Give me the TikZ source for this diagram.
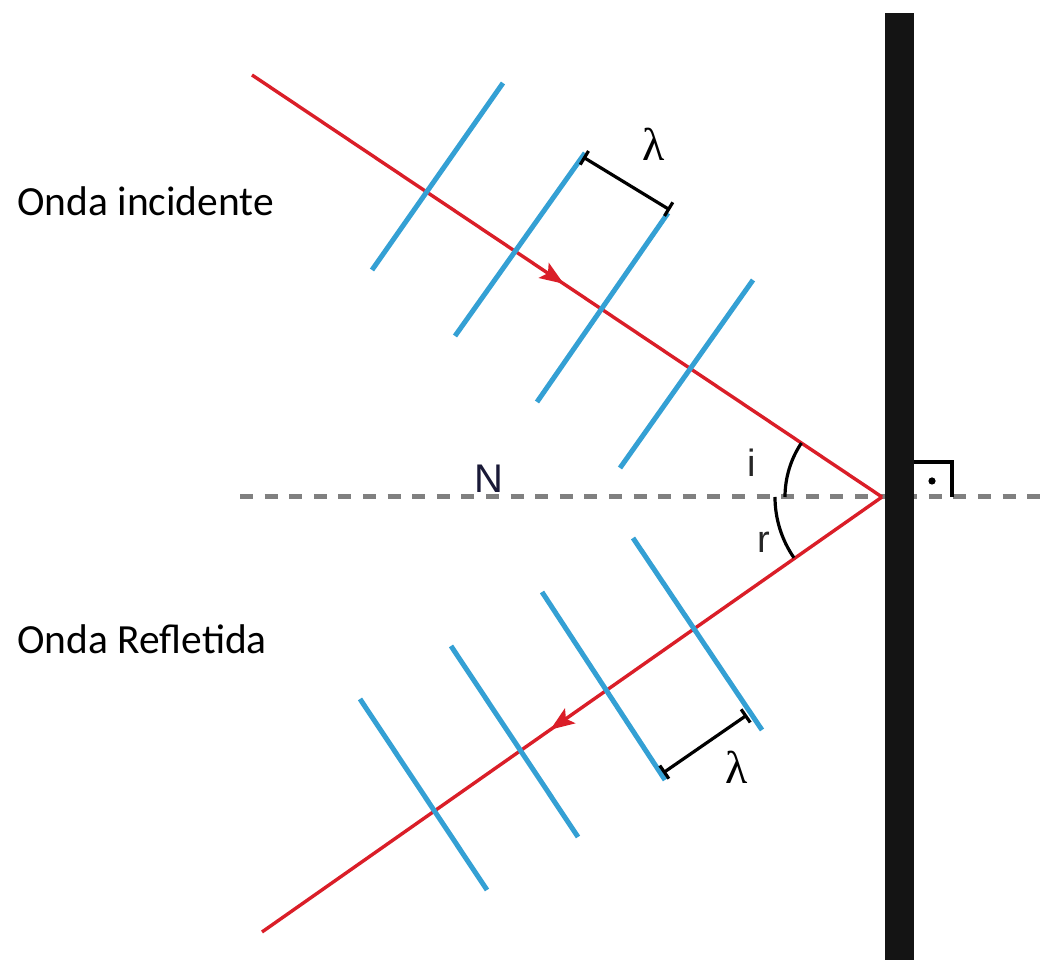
\documentclass[tikz,border=0pt]{standalone}
\usepackage{fontspec}
\setmainfont{Carlito}
\newfontfamily\sanslabel{Liberation Sans}
\newfontfamily\lambdafont{Liberation Serif}
\usetikzlibrary{arrows.meta,decorations.markings}
\definecolor{rayred}{RGB}{218,30,40}
\definecolor{waveblue}{RGB}{52,160,212}
\definecolor{normalgray}{RGB}{128,128,128}
\definecolor{navyN}{RGB}{25,25,55}
\begin{document}
\begin{tikzpicture}[x=1pt,y=1pt,
  ray/.style={rayred, line width=3.4pt},
  wave/.style={waveblue, line width=5pt},
  lambdabar/.style={black, line width=3.2pt, {Bar[width=16pt]}-{Bar[width=16pt]}},
  anglearc/.style={black, line width=3.2pt},
  normalline/.style={normalgray, line width=5pt, dash pattern=on 13pt off 11.6pt},
  sidelabel/.style={font=\fontsize{41.5}{44}\selectfont, anchor=base west, inner sep=0pt},
  anglelabel/.style={font=\sanslabel\fontsize{38}{40}\selectfont, anchor=base, inner sep=0pt, text=black!85},
  lambdalabel/.style={font=\lambdafont\fontsize{46}{48}\selectfont, inner sep=0pt},
  arrowmark/.style={postaction={decorate}, decoration={markings, mark=at position #1 with {\arrow{Stealth[length=24pt,width=18pt,inset=5pt]}}}}
]
\useasboundingbox (0,0) rectangle (1044,960);

% key points
\coordinate (A) at (252,885);
\coordinate (O) at (882,463);
\coordinate (B) at (262,28);

% normal (dashed)
\coordinate (Nl) at (240,463);
\coordinate (Nr) at (1044,463);
\draw[normalline] (Nl) -- (Nr);

% rays
\draw[ray, arrowmark=0.495] (A) -- (O);
\draw[ray, arrowmark=0.535] (O) -- (B);

% incident wavefronts
\coordinate (w1a) at (503,877); \coordinate (w1b) at (372,690);
\coordinate (w2a) at (585,807); \coordinate (w2b) at (455,624);
\coordinate (w3a) at (668,747); \coordinate (w3b) at (537,558);
\coordinate (w4a) at (753,680); \coordinate (w4b) at (620,492);
\draw[wave] (w1a) -- (w1b);
\draw[wave] (w2a) -- (w2b);
\draw[wave] (w3a) -- (w3b);
\draw[wave] (w4a) -- (w4b);

% reflected wavefronts
\coordinate (r1a) at (360,261); \coordinate (r1b) at (487,70);
\coordinate (r2a) at (451,314); \coordinate (r2b) at (578,123);
\coordinate (r3a) at (542,368); \coordinate (r3b) at (665,180);
\coordinate (r4a) at (633,422); \coordinate (r4b) at (762,230);
\draw[wave] (r1a) -- (r1b);
\draw[wave] (r2a) -- (r2b);
\draw[wave] (r3a) -- (r3b);
\draw[wave] (r4a) -- (r4b);

% wavelength markers
\coordinate (la1) at (583,803); \coordinate (la2) at (670,750);
\draw[lambdabar] (la1) -- (la2);
\node[lambdalabel] (lamtop) at (654,816) {λ};
\coordinate (lb1) at (663,187); \coordinate (lb2) at (747,245);
\draw[lambdabar] (lb1) -- (lb2);
\node[lambdalabel] (lambot) at (737,193) {λ};

% angle arcs
\draw[anglearc] ([shift={(146.19:97)}]O) arc[start angle=146.19, end angle=180, radius=97];
\draw[anglearc] ([shift={(180:107)}]O) arc[start angle=180, end angle=214.6, radius=107];
\node[anglelabel] (ilab) at (752,483) {i};
\node[anglelabel] (rlab) at (764,407) {r};
\node[anglelabel, text=navyN, font=\sanslabel\fontsize{40}{42}\selectfont] (Nlab) at (489,467) {N};

% wall
\fill[black!92] (885,0) rectangle (914,947);

% right-angle mark
\coordinate (q1) at (914,498); \coordinate (q2) at (952,498); \coordinate (q3) at (952,463);
\draw[black, line width=3.5pt, line join=miter] (q1) -- (q2) -- (q3);
\fill[black] (932,479) circle (3.6pt);

% side labels
\node[sidelabel] (inc) at (17,744) {Onda incidente};
\node[sidelabel] (ref) at (17,306) {Onda Refletida};
\end{tikzpicture}
\end{document}
